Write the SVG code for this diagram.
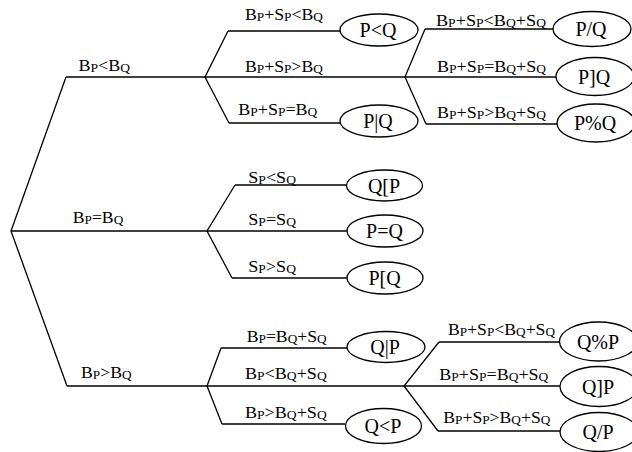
<svg xmlns="http://www.w3.org/2000/svg" width="632" height="452" viewBox="0 0 632 452">
  <style>
    .wire { fill: none; stroke: #000; stroke-width: 1.3; stroke-linejoin: miter; }
    .oval { fill: #fff; stroke: #000; stroke-width: 1.3; }
    .lbl { font-family: "Liberation Serif", "Times New Roman", serif; font-size: 16px; fill: #000; }
    .sub { font-size: 12px; }
    .res { font-family: "Liberation Serif", "Times New Roman", serif; font-size: 20px; fill: #000; text-anchor: middle; }
  </style>
  <rect width="632" height="452" fill="#fff"/>

  <!-- branching lines -->
  <g id="connectors" class="wire">
    <!-- root split -->
    <path d="M66,77 L11,231 L67,386"/>
    <path d="M66,77 H205"/>
    <path d="M11,231 H207"/>
    <path d="M67,386 H207"/>
    <!-- BP<BQ branch -->
    <path d="M228,31 L205,77 L229,123"/>
    <path d="M228,31 H340"/>
    <path d="M205,77 H405"/>
    <path d="M229,123 H340"/>
    <path d="M425,29 L405,77 L426,124"/>
    <path d="M425,29 H553"/>
    <path d="M405,77 H556"/>
    <path d="M426,124 H557"/>
    <!-- BP=BQ branch -->
    <path d="M235,185 L207,231 L232,278"/>
    <path d="M235,185 H346"/>
    <path d="M207,231 H347"/>
    <path d="M232,278 H347"/>
    <!-- BP>BQ branch -->
    <path d="M221,348 L207,386 L222,424"/>
    <path d="M221,348 H347"/>
    <path d="M207,386 H404"/>
    <path d="M222,424 H345"/>
    <path d="M439,342 L404,386 L438,431"/>
    <path d="M439,342 H559"/>
    <path d="M404,386 H560"/>
    <path d="M438,431 H560"/>
  </g>

  <!-- condition labels -->
  <g id="labels">
    <text class="lbl" x="78.5" y="71" textLength="51.5" lengthAdjust="spacingAndGlyphs">B<tspan class="sub" dy="1">P</tspan><tspan dy="-1">&lt;B</tspan><tspan class="sub" dy="1">Q</tspan></text>
    <text class="lbl" x="72.7" y="222.7" textLength="50.6" lengthAdjust="spacingAndGlyphs">B<tspan class="sub" dy="1">P</tspan><tspan dy="-1">=B</tspan><tspan class="sub" dy="1">Q</tspan></text>
    <text class="lbl" x="81" y="378.3" textLength="50.7" lengthAdjust="spacingAndGlyphs">B<tspan class="sub" dy="1">P</tspan><tspan dy="-1">&gt;B</tspan><tspan class="sub" dy="1">Q</tspan></text>

    <text class="lbl" x="245" y="20" textLength="78" lengthAdjust="spacingAndGlyphs">B<tspan class="sub" dy="1">P</tspan><tspan dy="-1">+S</tspan><tspan class="sub" dy="1">P</tspan><tspan dy="-1">&lt;B</tspan><tspan class="sub" dy="1">Q</tspan></text>
    <text class="lbl" x="245" y="71.7" textLength="78" lengthAdjust="spacingAndGlyphs">B<tspan class="sub" dy="1">P</tspan><tspan dy="-1">+S</tspan><tspan class="sub" dy="1">P</tspan><tspan dy="-1">&gt;B</tspan><tspan class="sub" dy="1">Q</tspan></text>
    <text class="lbl" x="238.3" y="115" textLength="79" lengthAdjust="spacingAndGlyphs">B<tspan class="sub" dy="1">P</tspan><tspan dy="-1">+S</tspan><tspan class="sub" dy="1">P</tspan><tspan dy="-1">=B</tspan><tspan class="sub" dy="1">Q</tspan></text>

    <text class="lbl" x="436" y="25.7" textLength="110" lengthAdjust="spacingAndGlyphs">B<tspan class="sub" dy="1">P</tspan><tspan dy="-1">+S</tspan><tspan class="sub" dy="1">P</tspan><tspan dy="-1">&lt;B</tspan><tspan class="sub" dy="1">Q</tspan><tspan dy="-1">+S</tspan><tspan class="sub" dy="1">Q</tspan></text>
    <text class="lbl" x="437" y="71.7" textLength="109" lengthAdjust="spacingAndGlyphs">B<tspan class="sub" dy="1">P</tspan><tspan dy="-1">+S</tspan><tspan class="sub" dy="1">P</tspan><tspan dy="-1">=B</tspan><tspan class="sub" dy="1">Q</tspan><tspan dy="-1">+S</tspan><tspan class="sub" dy="1">Q</tspan></text>
    <text class="lbl" x="437" y="118.3" textLength="109" lengthAdjust="spacingAndGlyphs">B<tspan class="sub" dy="1">P</tspan><tspan dy="-1">+S</tspan><tspan class="sub" dy="1">P</tspan><tspan dy="-1">&gt;B</tspan><tspan class="sub" dy="1">Q</tspan><tspan dy="-1">+S</tspan><tspan class="sub" dy="1">Q</tspan></text>

    <text class="lbl" x="248.3" y="182.7" textLength="47.7" lengthAdjust="spacingAndGlyphs">S<tspan class="sub" dy="1">P</tspan><tspan dy="-1">&lt;S</tspan><tspan class="sub" dy="1">Q</tspan></text>
    <text class="lbl" x="248.3" y="225" textLength="47.7" lengthAdjust="spacingAndGlyphs">S<tspan class="sub" dy="1">P</tspan><tspan dy="-1">=S</tspan><tspan class="sub" dy="1">Q</tspan></text>
    <text class="lbl" x="248.3" y="271.7" textLength="47.7" lengthAdjust="spacingAndGlyphs">S<tspan class="sub" dy="1">P</tspan><tspan dy="-1">&gt;S</tspan><tspan class="sub" dy="1">Q</tspan></text>

    <text class="lbl" x="246.7" y="341.7" textLength="80" lengthAdjust="spacingAndGlyphs">B<tspan class="sub" dy="1">P</tspan><tspan dy="-1">=B</tspan><tspan class="sub" dy="1">Q</tspan><tspan dy="-1">+S</tspan><tspan class="sub" dy="1">Q</tspan></text>
    <text class="lbl" x="245" y="379.3" textLength="81.7" lengthAdjust="spacingAndGlyphs">B<tspan class="sub" dy="1">P</tspan><tspan dy="-1">&lt;B</tspan><tspan class="sub" dy="1">Q</tspan><tspan dy="-1">+S</tspan><tspan class="sub" dy="1">Q</tspan></text>
    <text class="lbl" x="245" y="418.3" textLength="81.7" lengthAdjust="spacingAndGlyphs">B<tspan class="sub" dy="1">P</tspan><tspan dy="-1">&gt;B</tspan><tspan class="sub" dy="1">Q</tspan><tspan dy="-1">+S</tspan><tspan class="sub" dy="1">Q</tspan></text>

    <text class="lbl" x="448" y="335" textLength="107" lengthAdjust="spacingAndGlyphs">B<tspan class="sub" dy="1">P</tspan><tspan dy="-1">+S</tspan><tspan class="sub" dy="1">P</tspan><tspan dy="-1">&lt;B</tspan><tspan class="sub" dy="1">Q</tspan><tspan dy="-1">+S</tspan><tspan class="sub" dy="1">Q</tspan></text>
    <text class="lbl" x="439.3" y="380" textLength="109" lengthAdjust="spacingAndGlyphs">B<tspan class="sub" dy="1">P</tspan><tspan dy="-1">+S</tspan><tspan class="sub" dy="1">P</tspan><tspan dy="-1">=B</tspan><tspan class="sub" dy="1">Q</tspan><tspan dy="-1">+S</tspan><tspan class="sub" dy="1">Q</tspan></text>
    <text class="lbl" x="443.3" y="423.3" textLength="107" lengthAdjust="spacingAndGlyphs">B<tspan class="sub" dy="1">P</tspan><tspan dy="-1">+S</tspan><tspan class="sub" dy="1">P</tspan><tspan dy="-1">&gt;B</tspan><tspan class="sub" dy="1">Q</tspan><tspan dy="-1">+S</tspan><tspan class="sub" dy="1">Q</tspan></text>
  </g>

  <!-- outcome nodes -->
  <g id="n-PltQ"><ellipse class="oval" cx="379" cy="30" rx="39" ry="16"/><text class="res" x="378" y="37">P&lt;Q</text></g>
  <g id="n-PbarQ"><ellipse class="oval" cx="379" cy="121" rx="39" ry="16"/><text class="res" x="378" y="128">P|Q</text></g>
  <g id="n-PslashQ"><ellipse class="oval" cx="592" cy="29" rx="39" ry="17.5"/><text class="res" x="591" y="36">P/Q</text></g>
  <g id="n-PbrQ"><ellipse class="oval" cx="595" cy="76.5" rx="39" ry="19"/><text class="res" x="594" y="83.5">P]Q</text></g>
  <g id="n-PpctQ"><ellipse class="oval" cx="596" cy="123" rx="39" ry="19"/><text class="res" x="595" y="130">P%Q</text></g>
  <g id="n-QsqP"><ellipse class="oval" cx="384.5" cy="185.5" rx="38" ry="15.5"/><text class="res" x="384" y="192.5">Q[P</text></g>
  <g id="n-PeqQ"><ellipse class="oval" cx="385" cy="231" rx="38" ry="16"/><text class="res" x="384.5" y="238">P=Q</text></g>
  <g id="n-PsqQ"><ellipse class="oval" cx="385" cy="278" rx="38" ry="16"/><text class="res" x="384.5" y="285">P[Q</text></g>
  <g id="n-QbarP"><ellipse class="oval" cx="386" cy="347" rx="39" ry="15.5"/><text class="res" x="385" y="354">Q|P</text></g>
  <g id="n-QltP"><ellipse class="oval" cx="383.5" cy="426" rx="38" ry="17.5"/><text class="res" x="383" y="433">Q&lt;P</text></g>
  <g id="n-QpctP"><ellipse class="oval" cx="598.5" cy="341.5" rx="39" ry="19.5"/><text class="res" x="598" y="348.5">Q%P</text></g>
  <g id="n-QbrP"><ellipse class="oval" cx="599" cy="386.5" rx="39" ry="20"/><text class="res" x="598" y="393.5">Q]P</text></g>
  <g id="n-QslashP"><ellipse class="oval" cx="599" cy="432" rx="39" ry="19.5"/><text class="res" x="598" y="439">Q/P</text></g>
</svg>
